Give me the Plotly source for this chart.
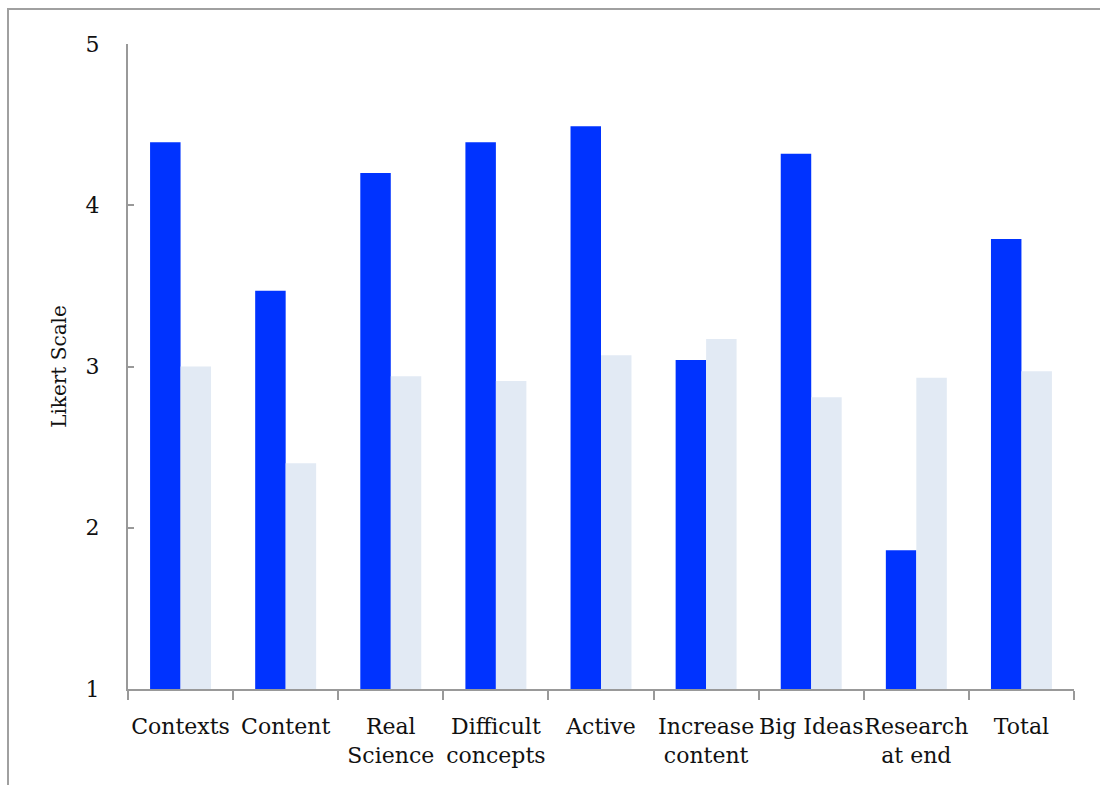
import plotly.graph_objects as go

categories = ["Contexts", "Content", "Real<br>Science", "Difficult<br>concepts", "Active",
              "Increase<br>content", "Big Ideas", "Research<br>at end", "Total"]
series_a = [4.39, 3.47, 4.20, 4.39, 4.49, 3.04, 4.32, 1.86, 3.79]
series_b = [3.00, 2.40, 2.94, 2.91, 3.07, 3.17, 2.81, 2.93, 2.97]
y_ticks = [1, 2, 3, 4, 5]

FONT = "DejaVu Serif"
GRAY = "#999999"

fig = go.Figure()
fig.add_trace(go.Bar(x=categories, y=series_a, marker=dict(color="#0033FF", line=dict(width=0)),
                     showlegend=False))
fig.add_trace(go.Bar(x=categories, y=series_b, marker=dict(color="#E2EAF4", line=dict(width=0)),
                     showlegend=False))

fig.update_layout(
    width=1100, height=785,
    margin=dict(l=128, r=26, t=44, b=96),
    paper_bgcolor="white", plot_bgcolor="white",
    barmode="group", bargap=0.42, bargroupgap=0,
    font=dict(family=FONT, size=22, color="#111"),
    xaxis=dict(
        showline=True, linecolor=GRAY, linewidth=2,
        ticks="outside", tickson="boundaries", ticklen=9, tickcolor=GRAY, tickwidth=2,
        showgrid=False, tickfont=dict(family=FONT, size=22, color="#111"),
        tickangle=0, ticklabelstandoff=17,
    ),
    yaxis=dict(
        range=[1, 5], tickvals=y_ticks, ticktext=[str(v) for v in y_ticks],
        showline=True, linecolor=GRAY, linewidth=2,
        ticks="inside", ticklen=6, tickcolor=GRAY, tickwidth=2,
        showgrid=False, zeroline=False,
        tickfont=dict(family=FONT, size=22, color="#111"),
        ticklabelstandoff=22,
        title=dict(text="Likert Scale", font=dict(family=FONT, size=20, color="#111"), standoff=14),
    ),
    shapes=[dict(type="rect", xref="paper", yref="paper",
                 x0=(8 - 128) / 946, x1=1.2, y0=-0.3, y1=(689 - 9) / 645,
                 line=dict(color="#a0a0a0", width=2), fillcolor="rgba(0,0,0,0)", layer="below")],
)

fig.write_html("out.html")
